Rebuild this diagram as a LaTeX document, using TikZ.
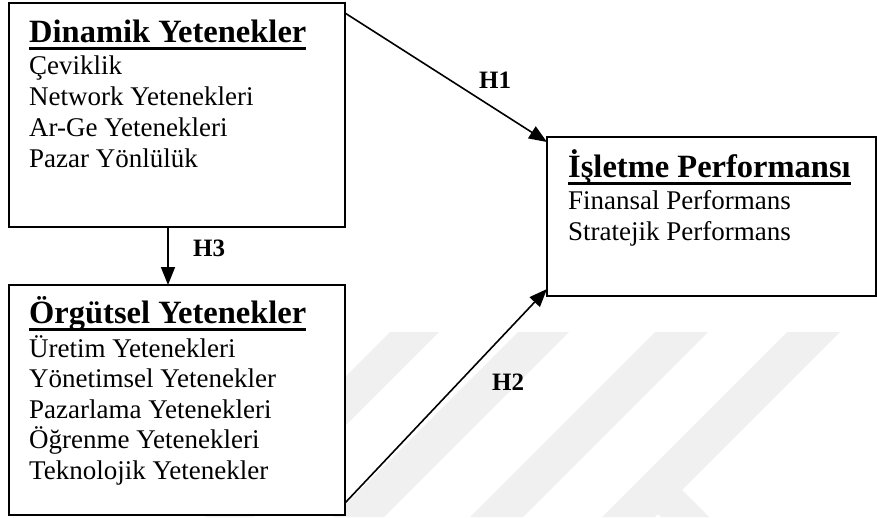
\documentclass[tikz,border=0pt]{standalone}
\usepackage{fontspec}
\setmainfont{Liberation Serif}
\usetikzlibrary{arrows.meta,calc}
\newcommand\myul[1]{\setbox0\hbox{#1}\rlap{\rule[-8.3pt]{\wd0}{3pt}}\box0}
\begin{document}
\begin{tikzpicture}[x=1pt,y=-1pt,
  box/.style={draw,line width=1.6pt,fill=white,inner sep=0pt,outer sep=0pt,anchor=north west},
  ttl/.style={anchor=base west,inner sep=0pt,font=\fontsize{32.5}{38}\selectfont\bfseries},
  itm/.style={anchor=base west,inner sep=0pt,font=\fontsize{27}{31}\selectfont},
  hyp/.style={anchor=base west,inner sep=0pt,font=\fontsize{25}{30}\selectfont\bfseries},
  conn/.style={line width=1.6pt,-{Triangle[length=18pt,width=14pt]}},
  wm/.style={fill=black!6,draw=none}]
\useasboundingbox (0,0) rectangle (877,517);
% faint watermark
\fill[wm] (390,332) -- (439,332) -- (254,517) -- (205,517) -- cycle;
\fill[wm] (518,332) -- (569,332) -- (384,517) -- (333,517) -- cycle;
\fill[wm] (655,332) -- (708,332) -- (523,517) -- (470,517) -- cycle;
\fill[wm] (787,332) -- (840,332) -- (682,490) -- (709,517) -- (661,517) -- (658,514) -- (655,517) -- (602,517) -- cycle;
% boxes
\node[box,minimum width=336pt,minimum height=224pt] (dyn) at (9,3) {};
\node[box,minimum width=336pt,minimum height=230pt] (org) at (9,285) {};
\node[box,minimum width=329pt,minimum height=159pt] (isl) at (547,137) {};
% connectors
\draw[conn] ($(dyn.north east)+(0,10)$) -- ($(isl.north west)+(0,5)$);
\draw[conn] ($(org.south east)+(0,-12)$) -- ($(isl.south west)+(0,-7)$);
\draw[conn] ($(dyn.south)+(-9,0)$) -- ($(org.north)+(-9,0)$);
% labels
\node[hyp] (h1) at (479,88) {H1};
\node[hyp] (h2) at (492,390) {H2};
\node[hyp] (h3) at (193,256) {H3};
% Dinamik
\node[ttl] (t1) at (29,42) {\myul{Dinamik Yetenekler}};
\node[itm] (d1) at (29,74) {Çeviklik};
\node[itm] (d2) at (29,105) {Network Yetenekleri};
\node[itm] (d3) at (29,136) {Ar-Ge Yetenekleri};
\node[itm] (d4) at (29,167) {Pazar Yönlülük};
% Orgutsel
\node[ttl] (t2) at (29,323) {\myul{Örgütsel Yetenekler}};
\node[itm] (o1) at (29,357) {Üretim Yetenekleri};
\node[itm] (o2) at (29,387) {Yönetimsel Yetenekler};
\node[itm] (o3) at (29,418) {Pazarlama Yetenekleri};
\node[itm] (o4) at (29,448) {Öğrenme Yetenekleri};
\node[itm] (o5) at (29,479) {Teknolojik Yetenekler};
% Isletme
\node[ttl] (t3) at (568,177) {\myul{İşletme Performansı}};
\node[itm] (i1) at (568,209) {Finansal Performans};
\node[itm] (i2) at (568,240) {Stratejik Performans};
\end{tikzpicture}
\end{document}
